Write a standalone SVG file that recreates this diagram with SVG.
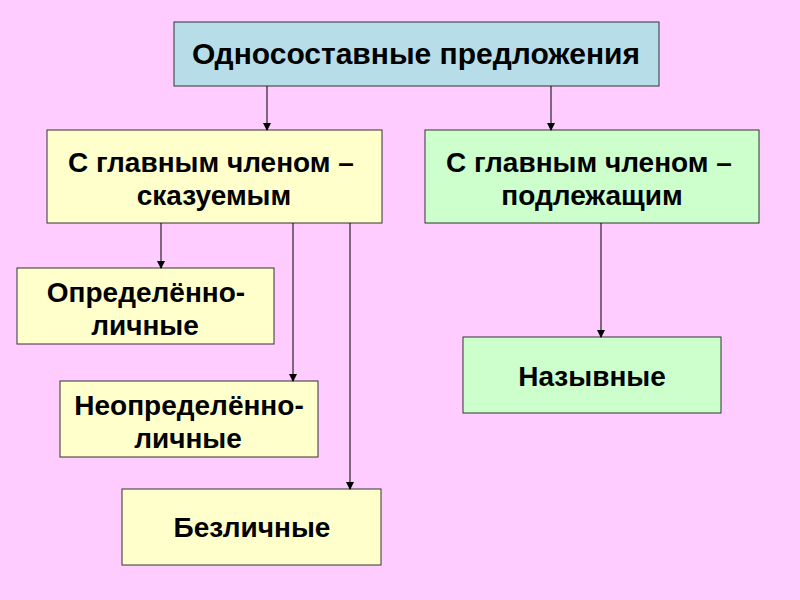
<svg xmlns="http://www.w3.org/2000/svg" width="800" height="600" viewBox="0 0 800 600">
<style>
.b{stroke:#333;stroke-width:1}
text{font-family:"Liberation Sans",Arial,sans-serif;font-weight:bold;font-size:28px;fill:#000;text-anchor:middle}
.c{stroke:#000;stroke-width:1;fill:none;marker-end:url(#a)}
</style>
<defs><marker id="a" markerWidth="8" markerHeight="8" refX="7" refY="4" orient="auto" markerUnits="userSpaceOnUse"><path d="M0,0L8,4L0,8z" fill="#000"/></marker></defs>
<rect width="800" height="600" fill="#FFCCFF"/>
<g id="title"><rect class="b" x="174" y="22" width="485" height="64" fill="#B7DEE8"/><text x="416" y="64" style="font-size:30px">Односоставные предложения</text></g>
<g id="pred"><rect class="b" x="47" y="130" width="335" height="93" fill="#FFFFCC"/><text x="211" y="172">С главным членом –</text><text x="214" y="205">сказуемым</text></g>
<g id="subj"><rect class="b" x="425" y="130" width="334" height="93" fill="#CCFFCC"/><text x="589" y="172">С главным членом –</text><text x="592" y="205">подлежащим</text></g>
<g id="opr"><rect class="b" x="17" y="268" width="257" height="76" fill="#FFFFCC"/><text x="146" y="302">Определённо-</text><text x="145" y="335">личные</text></g>
<g id="neopr"><rect class="b" x="60" y="381" width="258" height="76" fill="#FFFFCC"/><text x="189" y="415">Неопределённо-</text><text x="188" y="448">личные</text></g>
<g id="bezl"><rect class="b" x="122" y="489" width="259" height="76" fill="#FFFFCC"/><text x="252" y="537">Безличные</text></g>
<g id="nazyv"><rect class="b" x="463" y="337" width="258" height="76" fill="#CCFFCC"/><text x="592" y="386">Назывные</text></g>
<g id="connectors">
<line class="c" x1="267" y1="86" x2="267" y2="130"/>
<line class="c" x1="551" y1="86" x2="551" y2="130"/>
<line class="c" x1="161" y1="223" x2="161" y2="268"/>
<line class="c" x1="293" y1="223" x2="293" y2="381"/>
<line class="c" x1="350" y1="223" x2="350" y2="489"/>
<line class="c" x1="601" y1="223" x2="601" y2="337"/>
</g>
</svg>
